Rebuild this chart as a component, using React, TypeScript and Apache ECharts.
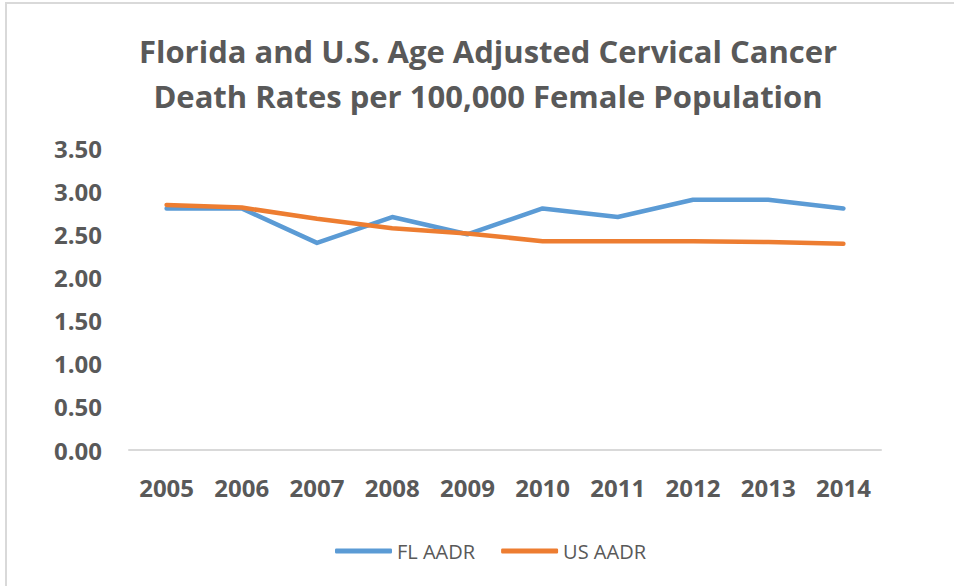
import React, { useEffect, useRef } from "react";
import * as echarts from "echarts";

const years = ["2005", "2006", "2007", "2008", "2009", "2010", "2011", "2012", "2013", "2014"];
const flAadr = [2.8, 2.8, 2.4, 2.7, 2.5, 2.8, 2.7, 2.9, 2.9, 2.8];
const usAadr = [2.84, 2.81, 2.68, 2.57, 2.51, 2.42, 2.42, 2.42, 2.41, 2.39];
const titleLines = [
  "Florida and U.S. Age Adjusted Cervical Cancer",
  "Death Rates per 100,000 Female Population",
];

const FONT = "'Open Sans', sans-serif";
const GRAY = "#595959";

export default function App() {
  const ref = useRef<HTMLDivElement>(null);
  useEffect(() => {
    document.body.style.margin = "0";
    const chart = echarts.init(ref.current!, undefined, { renderer: "svg" });
    chart.setOption({
      animation: false,
      backgroundColor: "#ffffff",
      textStyle: { fontFamily: FONT },
      title: {
        text: titleLines.join("\n"),
        left: 488,
        textAlign: "center",
        top: 28,
        padding: 0,
        textStyle: {
          fontFamily: FONT,
          fontSize: 31,
          fontWeight: "bold",
          color: GRAY,
          lineHeight: 45,
        },
      },
      graphic: [
        {
          type: "rect",
          shape: { x: 6, y: 3, width: 1000, height: 700 },
          style: { fill: "none", stroke: "#d9d9d9", lineWidth: 2 },
          silent: true,
          z: -1,
        },
      ],
      legend: {
        bottom: 25,
        left: 335,
        padding: 0,
        icon: "roundRect",
        itemWidth: 57,
        itemHeight: 5,
        itemGap: 26,
        textStyle: { fontFamily: FONT, fontSize: 20, color: GRAY },
        data: ["FL AADR", "US AADR"],
      },
      grid: { left: 129, right: 73, top: 148, bottom: 136, containLabel: false },
      xAxis: {
        type: "category",
        data: years,
        boundaryGap: true,
        axisLine: { lineStyle: { color: "#d9d9d9", width: 2 } },
        axisTick: { show: false },
        axisLabel: {
          fontFamily: FONT,
          fontSize: 24,
          fontWeight: "bold",
          color: GRAY,
          margin: 25,
        },
      },
      yAxis: {
        type: "value",
        min: 0,
        max: 3.5,
        interval: 0.5,
        splitLine: { show: false },
        axisLine: { show: false },
        axisTick: { show: false },
        axisLabel: {
          fontFamily: FONT,
          fontSize: 24,
          fontWeight: "bold",
          color: GRAY,
          margin: 27,
          formatter: (v: number) => v.toFixed(2),
        },
      },
      series: [
        {
          name: "FL AADR",
          type: "line",
          data: flAadr,
          symbol: "none",
          lineStyle: { color: "#5B9BD5", width: 4.5, cap: "round", join: "round" },
          itemStyle: { color: "#5B9BD5" },
        },
        {
          name: "US AADR",
          type: "line",
          data: usAadr,
          symbol: "none",
          lineStyle: { color: "#ED7D31", width: 4.5, cap: "round", join: "round" },
          itemStyle: { color: "#ED7D31" },
        },
      ],
    });
    return () => chart.dispose();
  }, []);
  return (
    <div
      ref={ref}
      style={{ position: "fixed", left: 0, top: 0, width: 954, height: 586 }}
    />
  );
}
